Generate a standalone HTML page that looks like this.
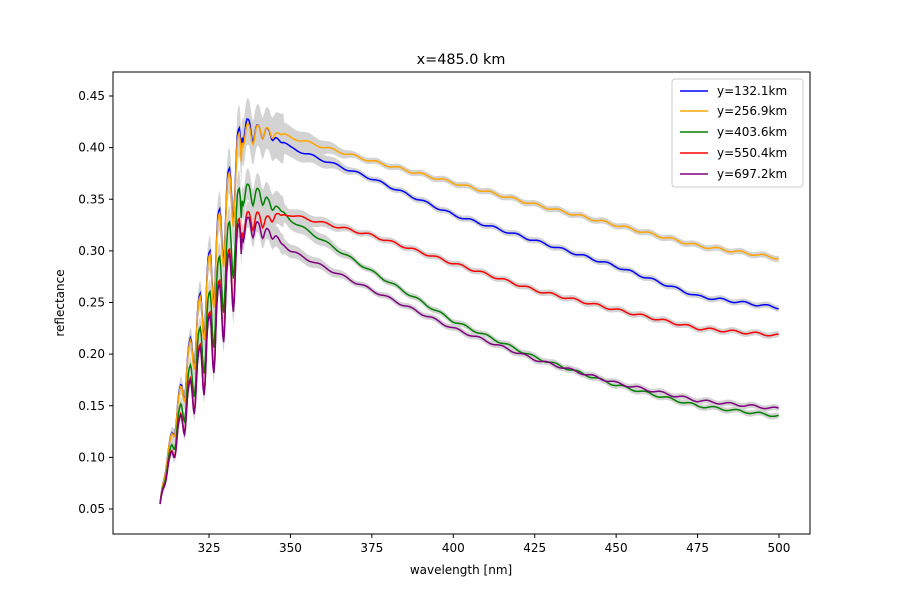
<!DOCTYPE html>
<html><head><meta charset="utf-8"><style>
body{margin:0;background:#fff;}
svg text{font-family:"DejaVu Sans","Liberation Sans",sans-serif;font-size:12px;fill:#000}
</style></head><body>
<svg id="s" width="900" height="600" xmlns="http://www.w3.org/2000/svg">
<rect width="900" height="600" fill="#fff"/>
<g id="bands"></g><g id="lines"></g>
<rect x="113" y="72" width="697" height="462" fill="none" stroke="#000" stroke-width="1"/>
<g id="ticks"></g>
<text x="461" y="64" text-anchor="middle" style="font-size:14.4px">x=485.0 km</text>
<text x="461" y="574" text-anchor="middle">wavelength [nm]</text>
<text transform="translate(64,303) rotate(-90)" text-anchor="middle">reflectance</text>
<g>
<rect x="672" y="79" width="131" height="108" rx="3" fill="#fff" fill-opacity="0.8" stroke="#ccc"/>
<line x1="680" y1="91" x2="708" y2="91" stroke="blue" stroke-width="1.5"/><text x="717" y="95">y=132.1km</text>
<line x1="680" y1="111" x2="708" y2="111" stroke="orange" stroke-width="1.5"/><text x="717" y="115">y=256.9km</text>
<line x1="680" y1="132" x2="708" y2="132" stroke="green" stroke-width="1.5"/><text x="717" y="136">y=403.6km</text>
<line x1="680" y1="153" x2="708" y2="153" stroke="red" stroke-width="1.5"/><text x="717" y="157">y=550.4km</text>
<line x1="680" y1="174" x2="708" y2="174" stroke="purple" stroke-width="1.5"/><text x="717" y="178">y=697.2km</text>
</g>
</svg>
<script>
var X=function(w){return 209+(w-325)*3.2571;};
var Y=function(v){return 509-(v-0.05)*1032.5;};
var t=document.getElementById('ticks'),h='';
for(var w=325;w<=500;w+=25){var x=X(w);h+='<line x1="'+x+'" y1="534" x2="'+x+'" y2="538" stroke="#000"/><text x="'+x+'" y="552" text-anchor="middle">'+w+'</text>';}
for(var i=1;i<=9;i++){var v=i*0.05,y=Y(v);h+='<line x1="109" y1="'+y+'" x2="113" y2="'+y+'" stroke="#000"/><text x="105" y="'+(y+4)+'" text-anchor="end">'+v.toFixed(2)+'</text>';}
t.innerHTML=h;
var S=[
["blue",0.43,[[342,0.42],[350,0.40],[375,0.37],[400,0.335],[425,0.31],[450,0.285],[475,0.256],[500,0.245]],1,0.02],
["orange",0.425,[[342,0.42],[350,0.41],[375,0.387],[400,0.366],[425,0.345],[450,0.325],[475,0.305],[500,0.293]],2,0.02],
["green",0.37,[[342,0.355],[350,0.33],[375,0.28],[400,0.232],[425,0.197],[450,0.17],[475,0.15],[500,0.14]],3,0.015],
["red",0.34,[[342,0.335],[350,0.335],[375,0.315],[400,0.288],[425,0.262],[450,0.243],[475,0.225],[500,0.218]],4,0.01],
["purple",0.335,[[342,0.325],[350,0.30],[375,0.262],[400,0.225],[425,0.195],[450,0.172],[475,0.155],[500,0.147]],5,0.01]];
function interp(p,w){for(var i=0;i<p.length-1;i++){if(w<=p[i+1][0]){var f=(w-p[i][0])/(p[i+1][0]-p[i][0]);return p[i][1]+f*(p[i+1][1]-p[i][1]);}}return p[p.length-1][1];}
var L='',B='';
S.forEach(function(s){
 var pk=s[1],pts=[[335,pk]].concat(s[2]),up=[],dn=[],ln=[];
 for(var w=310;w<=500;w+=0.3){
  var v,osc=0,bw=0.003;
  var dip=Math.pow(Math.abs(Math.sin((w-310)*Math.PI/3.0)),3);
  if(w<335){var f=(w-310)/25;v=0.055+(pk-0.055)*Math.pow(f,0.85);
   osc=-0.07*Math.min(1,f*1.6)*dip;bw=0.003+s[4]*f;}
  else{v=interp(pts,w);
   if(w<348){osc=-0.025*(348-w)/13*dip;bw=s[4];}
   else if(w<370){bw=0.003+s[4]*0.4*(370-w)/22;}
   osc+=0.0012*Math.sin(w*0.9+s[3]);}
  var yv=v+osc;ln.push(X(w).toFixed(1)+','+Y(yv).toFixed(1));
  up.push(X(w).toFixed(1)+','+Y(yv+bw).toFixed(1));dn.unshift(X(w).toFixed(1)+','+Y(yv-bw).toFixed(1));}
 B+='<polygon points="'+up.concat(dn).join(' ')+'" fill="#d3d3d3"/>';
 L+='<polyline points="'+ln.join(' ')+'" fill="none" stroke="'+s[0]+'" stroke-width="1.5"/>';
});
document.getElementById('bands').innerHTML=B;document.getElementById('lines').innerHTML=L;
</script>
</body></html>
